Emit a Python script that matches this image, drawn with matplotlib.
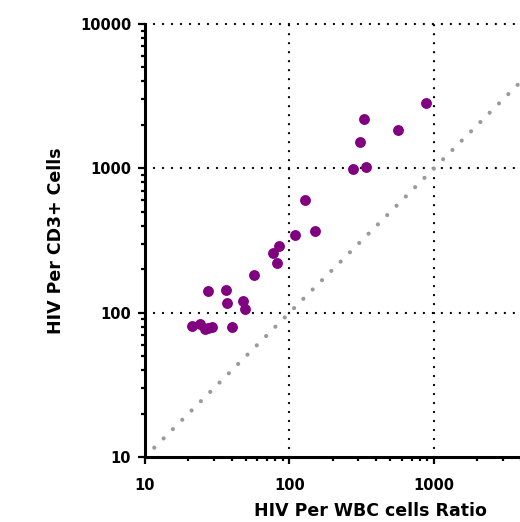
import numpy as np
import matplotlib.pyplot as plt
from matplotlib.ticker import LogLocator, FixedLocator, NullFormatter

# HIV per WBC cells ratio (x) vs HIV per CD3+ cells (y)
wbc_ratio = [21.0, 24.2, 26.1, 27.4, 29.1, 40.2, 27.2, 36.1, 37.1, 47.4, 49.4, 57.0,
             82.4, 76.6, 84.5, 109, 149, 128, 277, 337, 309, 326, 563, 877]
cd3_cells = [81, 84, 77, 78, 80, 80, 141, 144, 116, 121, 106, 183,
             221, 261, 290, 347, 368, 607, 986, 1028, 1524, 2188, 1854, 2839]

identity = [10, 10000]
major_ticks = [10, 100, 1000, 10000]
x_tick_labels = ['10', '100', '1000', '']  # 10000 falls outside the picture
y_tick_labels = ['10', '100', '1000', '10000']
grid_x = [100, 1000]
grid_y = [100, 1000, 10000]

plt.rcParams['font.family'] = ['DejaVu Sans']

fig = plt.figure(figsize=(5.2, 5.22), dpi=100)
ax = fig.add_axes([0.2788, 0.1245, 0.8337, 0.8295])
ax.set_xscale('log')
ax.set_yscale('log')
ax.set_xlim(10, 10000)
ax.set_ylim(10, 10000)

dotted = (0, (0.01, 3.8))

# dotted grid
for gx in grid_x:
    ax.plot([gx, gx], [10, 10000], color='black', lw=1.7, linestyle=dotted,
            dash_capstyle='round', zorder=1, clip_on=False)
for gy in grid_y:
    ax.plot([10, 10000], [gy, gy], color='black', lw=1.7, linestyle=dotted,
            dash_capstyle='round', zorder=1, clip_on=False)

# line of identity
ax.plot(identity, identity, color='#9a9a9a', lw=3.0, linestyle=(0, (0.01, 3.15)),
        dash_capstyle='round', zorder=2)

ax.plot(wbc_ratio, cd3_cells, 'o', color='#800080', ms=6.8, mec='#800080', zorder=3,
        clip_on=False)

for s in ['top', 'right']:
    ax.spines[s].set_visible(False)
for s in ['left', 'bottom']:
    ax.spines[s].set_linewidth(2.2)

ax.xaxis.set_major_locator(FixedLocator(major_ticks))
ax.yaxis.set_major_locator(FixedLocator(major_ticks))
ax.xaxis.set_minor_locator(LogLocator(base=10, subs=np.arange(2, 10)))
ax.yaxis.set_minor_locator(LogLocator(base=10, subs=np.arange(2, 10)))
ax.xaxis.set_minor_formatter(NullFormatter())
ax.yaxis.set_minor_formatter(NullFormatter())
ax.set_xticklabels(x_tick_labels)
ax.set_yticklabels(y_tick_labels)

ax.tick_params(axis='both', which='major', direction='out', length=5, width=1.6,
               labelsize=10.5)
ax.tick_params(axis='both', which='minor', direction='out', length=3, width=1.6)
ax.tick_params(axis='x', which='major', pad=10)
ax.tick_params(axis='y', which='major', pad=5)
for lbl in ax.get_xticklabels() + ax.get_yticklabels():
    lbl.set_fontweight('bold')

ax.set_xlabel('HIV Per WBC cells Ratio', fontsize=12.5, fontweight='bold')
ax.xaxis.set_label_coords(0.52, -0.103)
ax.set_ylabel('HIV Per CD3+ Cells', fontsize=12.5, fontweight='bold', labelpad=11)

fig.savefig('out.png', dpi=100)
